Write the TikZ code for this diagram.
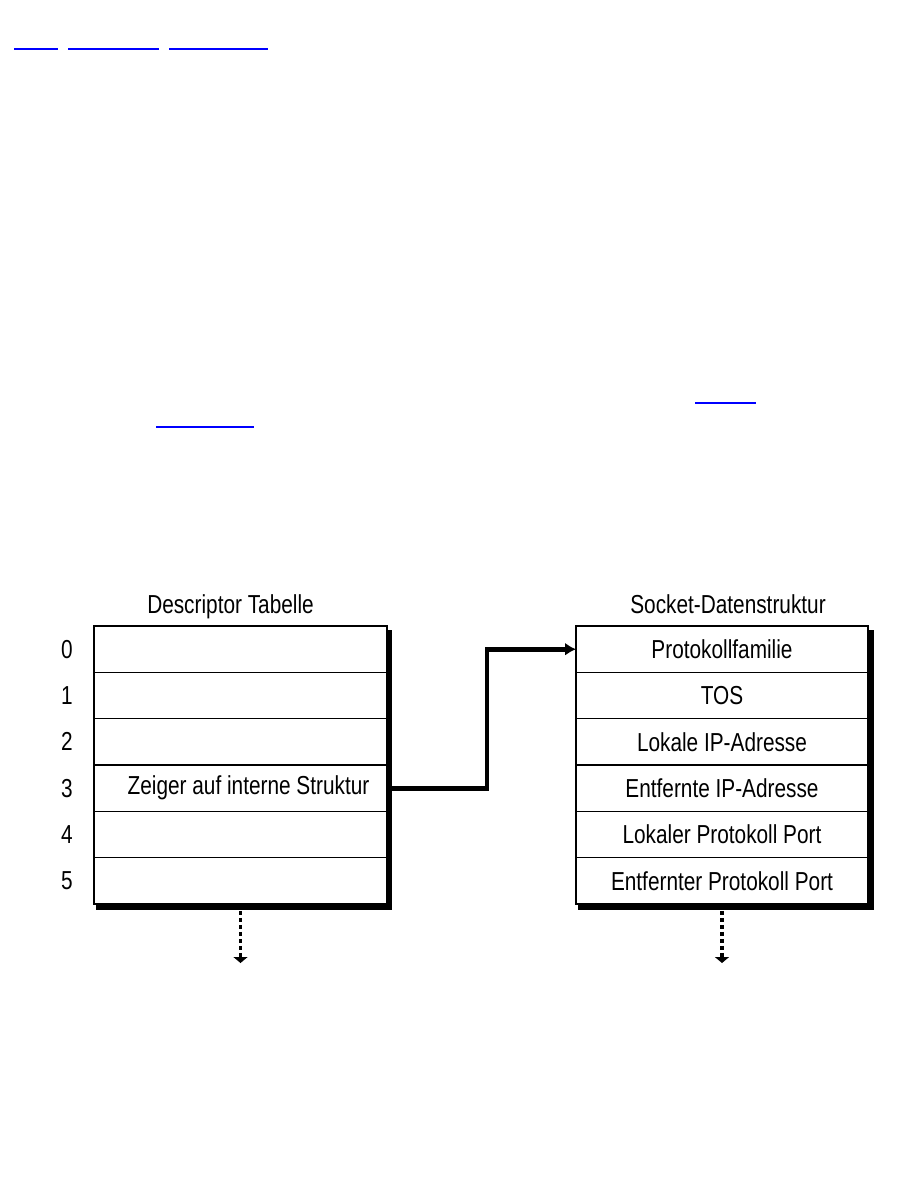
\documentclass[tikz,border=0pt]{standalone}
\usepackage{fontspec}
\setmainfont{Liberation Sans}[FakeStretch=0.8]
\usetikzlibrary{arrows.meta, positioning, calc}

\begin{document}
\begin{tikzpicture}[
    x=0.02cm, y=-0.02cm,
    every node/.style={font=\fontsize{14.8pt}{17pt}\selectfont},
    zeile/.style={draw, rectangle, line width=0.8pt, minimum width=5.86cm, minimum height=0.9266cm, inner sep=0pt, outer sep=0pt},
    nummer/.style={inner sep=0pt, left=0.42cm of #1},
    zeiger/.style={-{Latex[length=0.22cm, width=0.26cm]}, line width=0.095cm},
    weiter/.style={-{Triangle[length=0.12cm, width=0.28cm]}, line width=0.07cm, dash pattern=on 0.08cm off 0.06cm},
    link/.style={blue, line width=0.04cm}
]
\useasboundingbox (0,0) rectangle (918,1188);

% Verweise (unterstrichen)
\draw[link] (14,49) -- (58,49);
\draw[link] (68,49) -- (159,49);
\draw[link] (169,49) -- (268,49);
\draw[link] (695,403) -- (756,403);
\draw[link] (156,427) -- (254,427);

% Descriptor Tabelle
\node[anchor=base] (tDesc) at (230.5,613) {Descriptor Tabelle};
\node[zeile] (d0) at (240.5,649.2) {};
\node[zeile, below=0pt of d0] (d1) {};
\node[zeile, below=0pt of d1] (d2) {};
\node[zeile, below=0pt of d2] (d3) {\hspace{0.32cm}Zeiger auf interne Struktur};
\node[zeile, below=0pt of d3] (d4) {};
\node[zeile, below=0pt of d4] (d5) {};

% Schatten
\fill ($(d0.north east)+(0,4)$) rectangle ($(d5.south east)+(5,6)$);
\fill ($(d5.south west)+(2,0)$) rectangle ($(d5.south east)+(5,6)$);

% Nummern
\node[nummer=d0] (n0) {0};
\node[nummer=d1] (n1) {1};
\node[nummer=d2] (n2) {2};
\node[nummer=d3] (n3) {3};
\node[nummer=d4] (n4) {4};
\node[nummer=d5] (n5) {5};

% Socket-Datenstruktur
\node[anchor=base] (tSock) at (728,613) {Socket-Datenstruktur};
\node[zeile, minimum width=5.84cm] (s0) at (722,649.2) {Protokollfamilie};
\node[zeile, minimum width=5.84cm, below=0pt of s0] (s1) {TOS};
\node[zeile, minimum width=5.84cm, below=0pt of s1] (s2) {Lokale IP-Adresse};
\node[zeile, minimum width=5.84cm, below=0pt of s2] (s3) {Entfernte IP-Adresse};
\node[zeile, minimum width=5.84cm, below=0pt of s3] (s4) {Lokaler Protokoll Port};
\node[zeile, minimum width=5.84cm, below=0pt of s4] (s5) {Entfernter Protokoll Port};

\fill ($(s0.north east)+(0,4)$) rectangle ($(s5.south east)+(6,6)$);
\fill ($(s5.south west)+(2,0)$) rectangle ($(s5.south east)+(6,6)$);

% Zeiger
\draw[zeiger] (d3.east) -- ++(100,0) |- (s0.west);

% Fortsetzung
\coordinate (dEnde) at (240.5,963);
\coordinate (sEnde) at (722,963);
\draw[weiter] (d5.south) -- (dEnde);
\draw[weiter] (s5.south) -- (sEnde);

\end{tikzpicture}
\end{document}
